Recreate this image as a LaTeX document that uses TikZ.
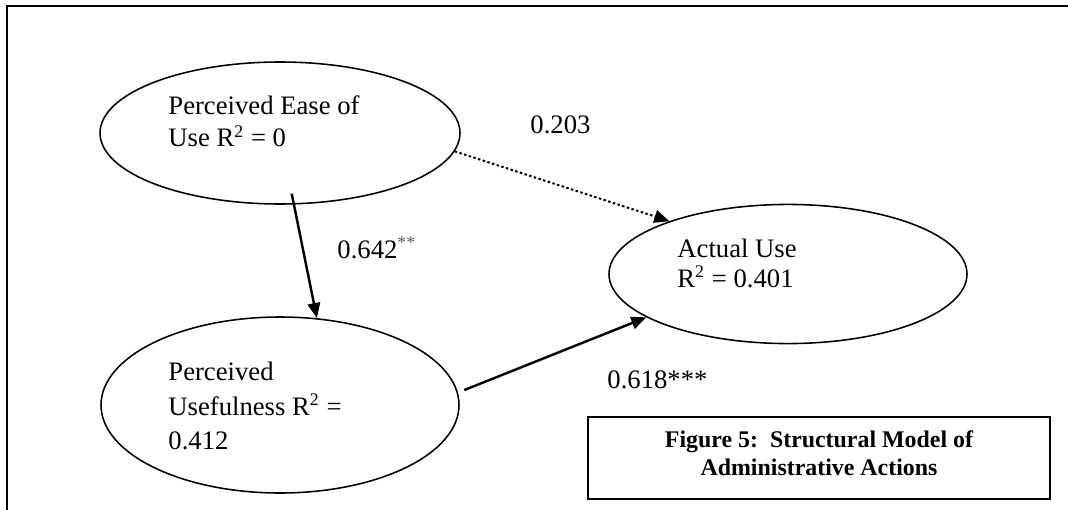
\documentclass[tikz,border=0pt]{standalone}
\usepackage{fontspec}
\setmainfont{Liberation Serif}
\usetikzlibrary{shapes.geometric,arrows.meta}
\begin{document}
\begin{tikzpicture}[x=0.45pt,y=-0.45pt,
  latent/.style={draw,ellipse,line width=0.7pt,inner sep=0pt},
  txt/.style={anchor=base west,inner sep=0pt,font=\fontsize{12}{14.4}\selectfont},
  captxt/.style={anchor=base,inner sep=0pt,font=\fontsize{10.75}{13}\selectfont\bfseries},
  path/.style={line width=1.1pt,-{Triangle[length=6.8pt,width=5.6pt]}},
  dotpath/.style={line width=0.9pt,dash pattern=on 1.1pt off 1.1pt,-{Triangle[length=6.8pt,width=5.8pt]}}]
\useasboundingbox (0,0) rectangle (1068,510);
% outer frame
\draw[line width=0.9pt] (1068,6.5) -- (7,6.5) -- (7,510);
% latent variables
\node[latent,minimum width=162pt,minimum height=63.9pt] (peou) at (280,133) {};
\node[latent,minimum width=161.1pt,minimum height=79.2pt] (pu) at (280,405) {};
\node[latent,minimum width=161.1pt,minimum height=62.6pt] (au) at (788,274) {};
% texts
\node[txt] (peou1) at (168,115) {Perceived Ease of};
\node[txt] (peou2) at (168,147) {Use R\textsuperscript{2} = 0};
\node[txt] (pu1) at (168,380) {Perceived};
\node[txt] (pu2) at (168,415) {Usefulness R\textsuperscript{2} =};
\node[txt] (pu3) at (168,449) {0.412};
\node[txt] (au1) at (677,257) {Actual Use};
\node[txt] (au2) at (677,287) {R\textsuperscript{2} = 0.401};
% paths
\draw[path,shorten <=-5pt] (peou.-79.6) -- (pu.67.6);
\draw[dotpath] (peou.-6.5) -- (au.156.25);
\draw[path,shorten <=3pt] (pu.4.35) -- (au.-163.2);
% coefficients
\node[txt] (c203) at (530,134) {0.203};
\node[txt] (c642) at (337,258) {0.642\textsuperscript{\color{black!65}**}};
\node[txt] (c618) at (607,388) {0.618***};
% caption
\node[draw,line width=0.9pt,minimum width=207.9pt,minimum height=36.9pt,inner sep=0pt] (cap) at (819,458) {};
\node[captxt] (cap1) at (819,447) {Figure 5:\ \ Structural Model of};
\node[captxt] (cap2) at (819,475) {Administrative Actions};
\end{tikzpicture}
\end{document}
